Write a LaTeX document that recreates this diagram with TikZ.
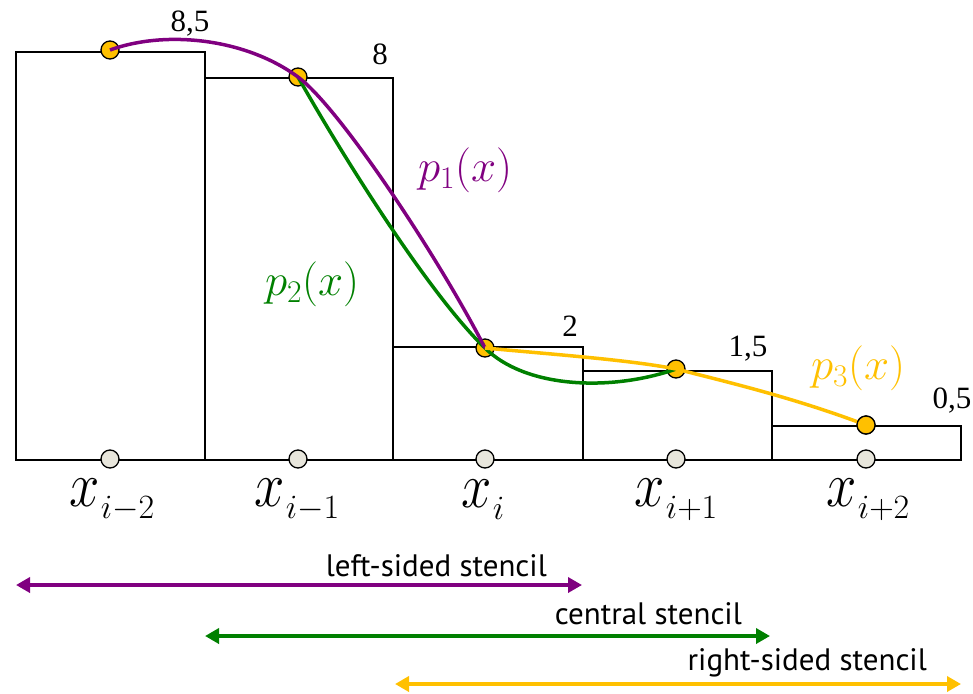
\RequirePackage{fix-cm}
\documentclass[tikz,border=0pt]{standalone}
\usepackage{graphicx}
\usepackage{fontspec}
\setmainfont{Liberation Serif}
\newfontfamily\stfont{PT Sans}
\usetikzlibrary{arrows.meta}
\definecolor{cpurple}{HTML}{800080}
\definecolor{cgreen}{HTML}{008000}
\definecolor{cyellow}{HTML}{FFC000}
\definecolor{cgrey}{HTML}{E8E6DC}
\newcommand{\xsub}[1]{\scalebox{0.85}[1]{$x$}\kern1pt\raisebox{-12pt}{\fontsize{34}{34}\selectfont$#1$}}
\tikzset{
  bar/.style={draw=black, line width=1.5pt},
  ydot/.style={circle, draw=black, fill=cyellow, line width=1.3pt, minimum size=18pt, inner sep=0pt},
  gdot/.style={circle, draw=black, fill=cgrey, line width=1.3pt, minimum size=18pt, inner sep=0pt},
  curve/.style={line width=3.5pt},
  numlab/.style={font=\fontsize{31}{31}\selectfont, inner sep=0pt},
  xlab/.style={font=\fontsize{64}{64}\selectfont, inner sep=0pt},
  plab/.style={font=\fontsize{45}{45}\selectfont, inner sep=0pt},
  stlab/.style={font=\stfont\fontsize{31}{31}\selectfont, inner sep=0pt, anchor=east},
  stencil/.style={line width=4pt, {Triangle[width=15pt,length=14pt]}-{Triangle[width=15pt,length=14pt]}}
}
\begin{document}
\begin{tikzpicture}[x=1pt,y=-1pt]
\useasboundingbox (0,0) rectangle (973,693);
% bars
\draw[bar] (16,460) rectangle (205,52);
\draw[bar] (205,460) rectangle (393,78);
\draw[bar] (393,460) rectangle (583,347);
\draw[bar] (583,460) rectangle (772,371);
\draw[bar] (772,460) rectangle (961,426);
% bottom points
\node[gdot] (g1) at (110,459) {};
\node[gdot] (g2) at (298,459) {};
\node[gdot] (g3) at (485,459) {};
\node[gdot] (g4) at (676,459) {};
\node[gdot] (g5) at (866,459) {};
% top points
\node[ydot] (a1) at (110,50) {};
\node[ydot] (a2) at (298,77) {};
\node[ydot] (a3) at (485,348) {};
\node[ydot] (a4) at (676,369) {};
\node[ydot] (a5) at (866,425) {};
% curves
\draw[curve, cgreen] (a2.center) .. controls (345,160) and (430,295) .. (a3.center)
   .. controls (525,388) and (610,392) .. (a4.center);
\draw[curve, cpurple] (a1.center) .. controls (165,30) and (245,38) .. (a2.center)
   .. controls (340,108) and (440,260) .. (a3.center);
\draw[curve, cyellow] (a3.center) .. controls (560,355) and (630,360) .. (a4.center)
   .. controls (740,385) and (800,400) .. (a5.center);
\node[ydot, fill=cyellow] at (a5) {};
% value labels
\node[numlab] (v1) at (190,24) {8,5};
\node[numlab] (v2) at (380,54) {8};
\node[numlab] (v3) at (570,326) {2};
\node[numlab] (v4) at (748,349) {1,5};
\node[numlab] (v5) at (952,401) {0,5};
% polynomial labels
\node[plab, text=cpurple] (p1) at (465,170) {$p_1(x)$};
\node[plab, text=cgreen] (p2) at (312,284) {$p_2(x)$};
\node[plab, text=cyellow] (p3) at (858,368) {$p_3(x)$};
% x labels
\node[xlab] (x1) at (112,500) {\xsub{i{-}2}};
\node[xlab] (x2) at (297,500) {\xsub{i{-}1}};
\node[xlab] (x3) at (483,500) {\xsub{i}};
\node[xlab] (x4) at (676,500) {\xsub{i{+}1}};
\node[xlab] (x5) at (868,500) {\xsub{i{+}2}};
% stencils
\coordinate (l1) at (16,585); \coordinate (l2) at (582,585);
\coordinate (c1) at (205,636); \coordinate (c2) at (770,636);
\coordinate (r1) at (395,684); \coordinate (r2) at (961,684);
\draw[stencil, cpurple] (l1) -- (l2);
\draw[stencil, cgreen] (c1) -- (c2);
\draw[stencil, cyellow] (r1) -- (r2);
\node[stlab] (t1) at (547,566) {left-sided stencil};
\node[stlab] (t2) at (742,614) {central stencil};
\node[stlab] (t3) at (927,663) {right-sided stencil};
\end{tikzpicture}
\end{document}
